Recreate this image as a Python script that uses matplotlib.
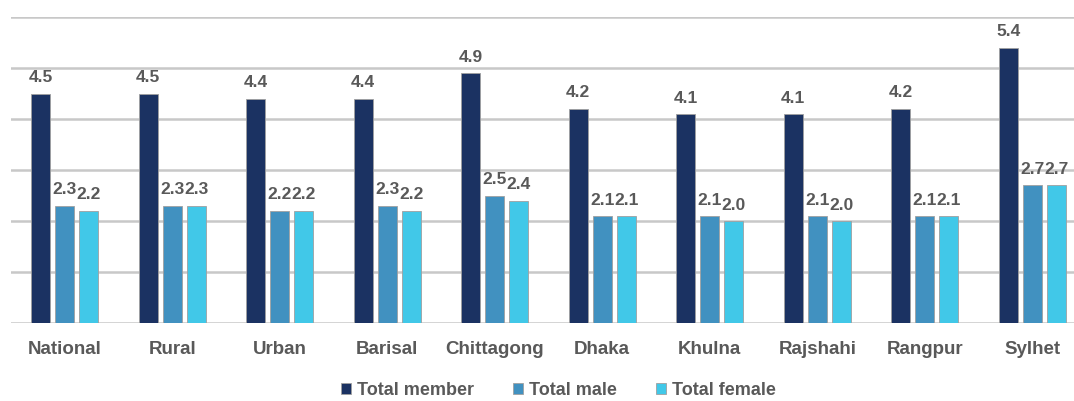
import matplotlib.pyplot as plt
import numpy as np

regions = ["National", "Rural", "Urban", "Barisal", "Chittagong",
           "Dhaka", "Khulna", "Rajshahi", "Rangpur", "Sylhet"]
total_member = [4.5, 4.5, 4.4, 4.4, 4.9, 4.2, 4.1, 4.1, 4.2, 5.4]
total_male = [2.3, 2.3, 2.2, 2.3, 2.5, 2.1, 2.1, 2.1, 2.1, 2.7]
total_female = [2.2, 2.3, 2.2, 2.2, 2.4, 2.1, 2.0, 2.0, 2.1, 2.7]

series = [("Total member", total_member, "#1b3262"),
          ("Total male", total_male, "#4191c0"),
          ("Total female", total_female, "#41c8e8")]

plt.rcParams['font.family'] = ['Liberation Sans', 'DejaVu Sans']
text_col = "#595959"

fig = plt.figure(figsize=(10.74, 4.01), dpi=100)
ax = fig.add_axes([0.0102, 0.1945, 1.001, 0.7631])

x = np.arange(len(regions))
width = 0.177
step = 0.223
for i, (name, vals, col) in enumerate(series):
    pos = x + (i - 1) * step
    bars = ax.bar(pos, vals, width, color=col, edgecolor="#a0a0a0",
                  linewidth=0.6, label=name, zorder=3)
    for b, v in zip(bars, vals):
        ax.annotate(f"{v:.1f}", (b.get_x() + b.get_width() / 2, v),
                    xytext=(0, 6), textcoords="offset points",
                    ha="center", va="bottom", fontsize=12.5,
                    fontweight="bold", color=text_col)

ax.set_xlim(-0.5, len(regions) - 0.5)
ax.set_ylim(0, 6)
ax.set_yticks(np.arange(0, 7, 1))
ax.yaxis.grid(True, color="#c8c8c8", linewidth=1.8, zorder=0)
ax.tick_params(axis="y", left=False, labelleft=False)
ax.tick_params(axis="x", length=0, pad=13)
ax.set_xticks(x)
ax.set_xticklabels(regions, fontsize=13.5, fontweight="bold", color=text_col)
for s in ax.spines.values():
    s.set_visible(False)

fig.legend(loc="lower center", bbox_to_anchor=(0.52, -0.035), ncol=3,
           frameon=False, handlelength=0.55, handleheight=0.55,
           handletextpad=0.3, columnspacing=2.2,
           prop={"size": 13, "weight": "bold"}, labelcolor=text_col)

fig.savefig("out.png", dpi=100)
